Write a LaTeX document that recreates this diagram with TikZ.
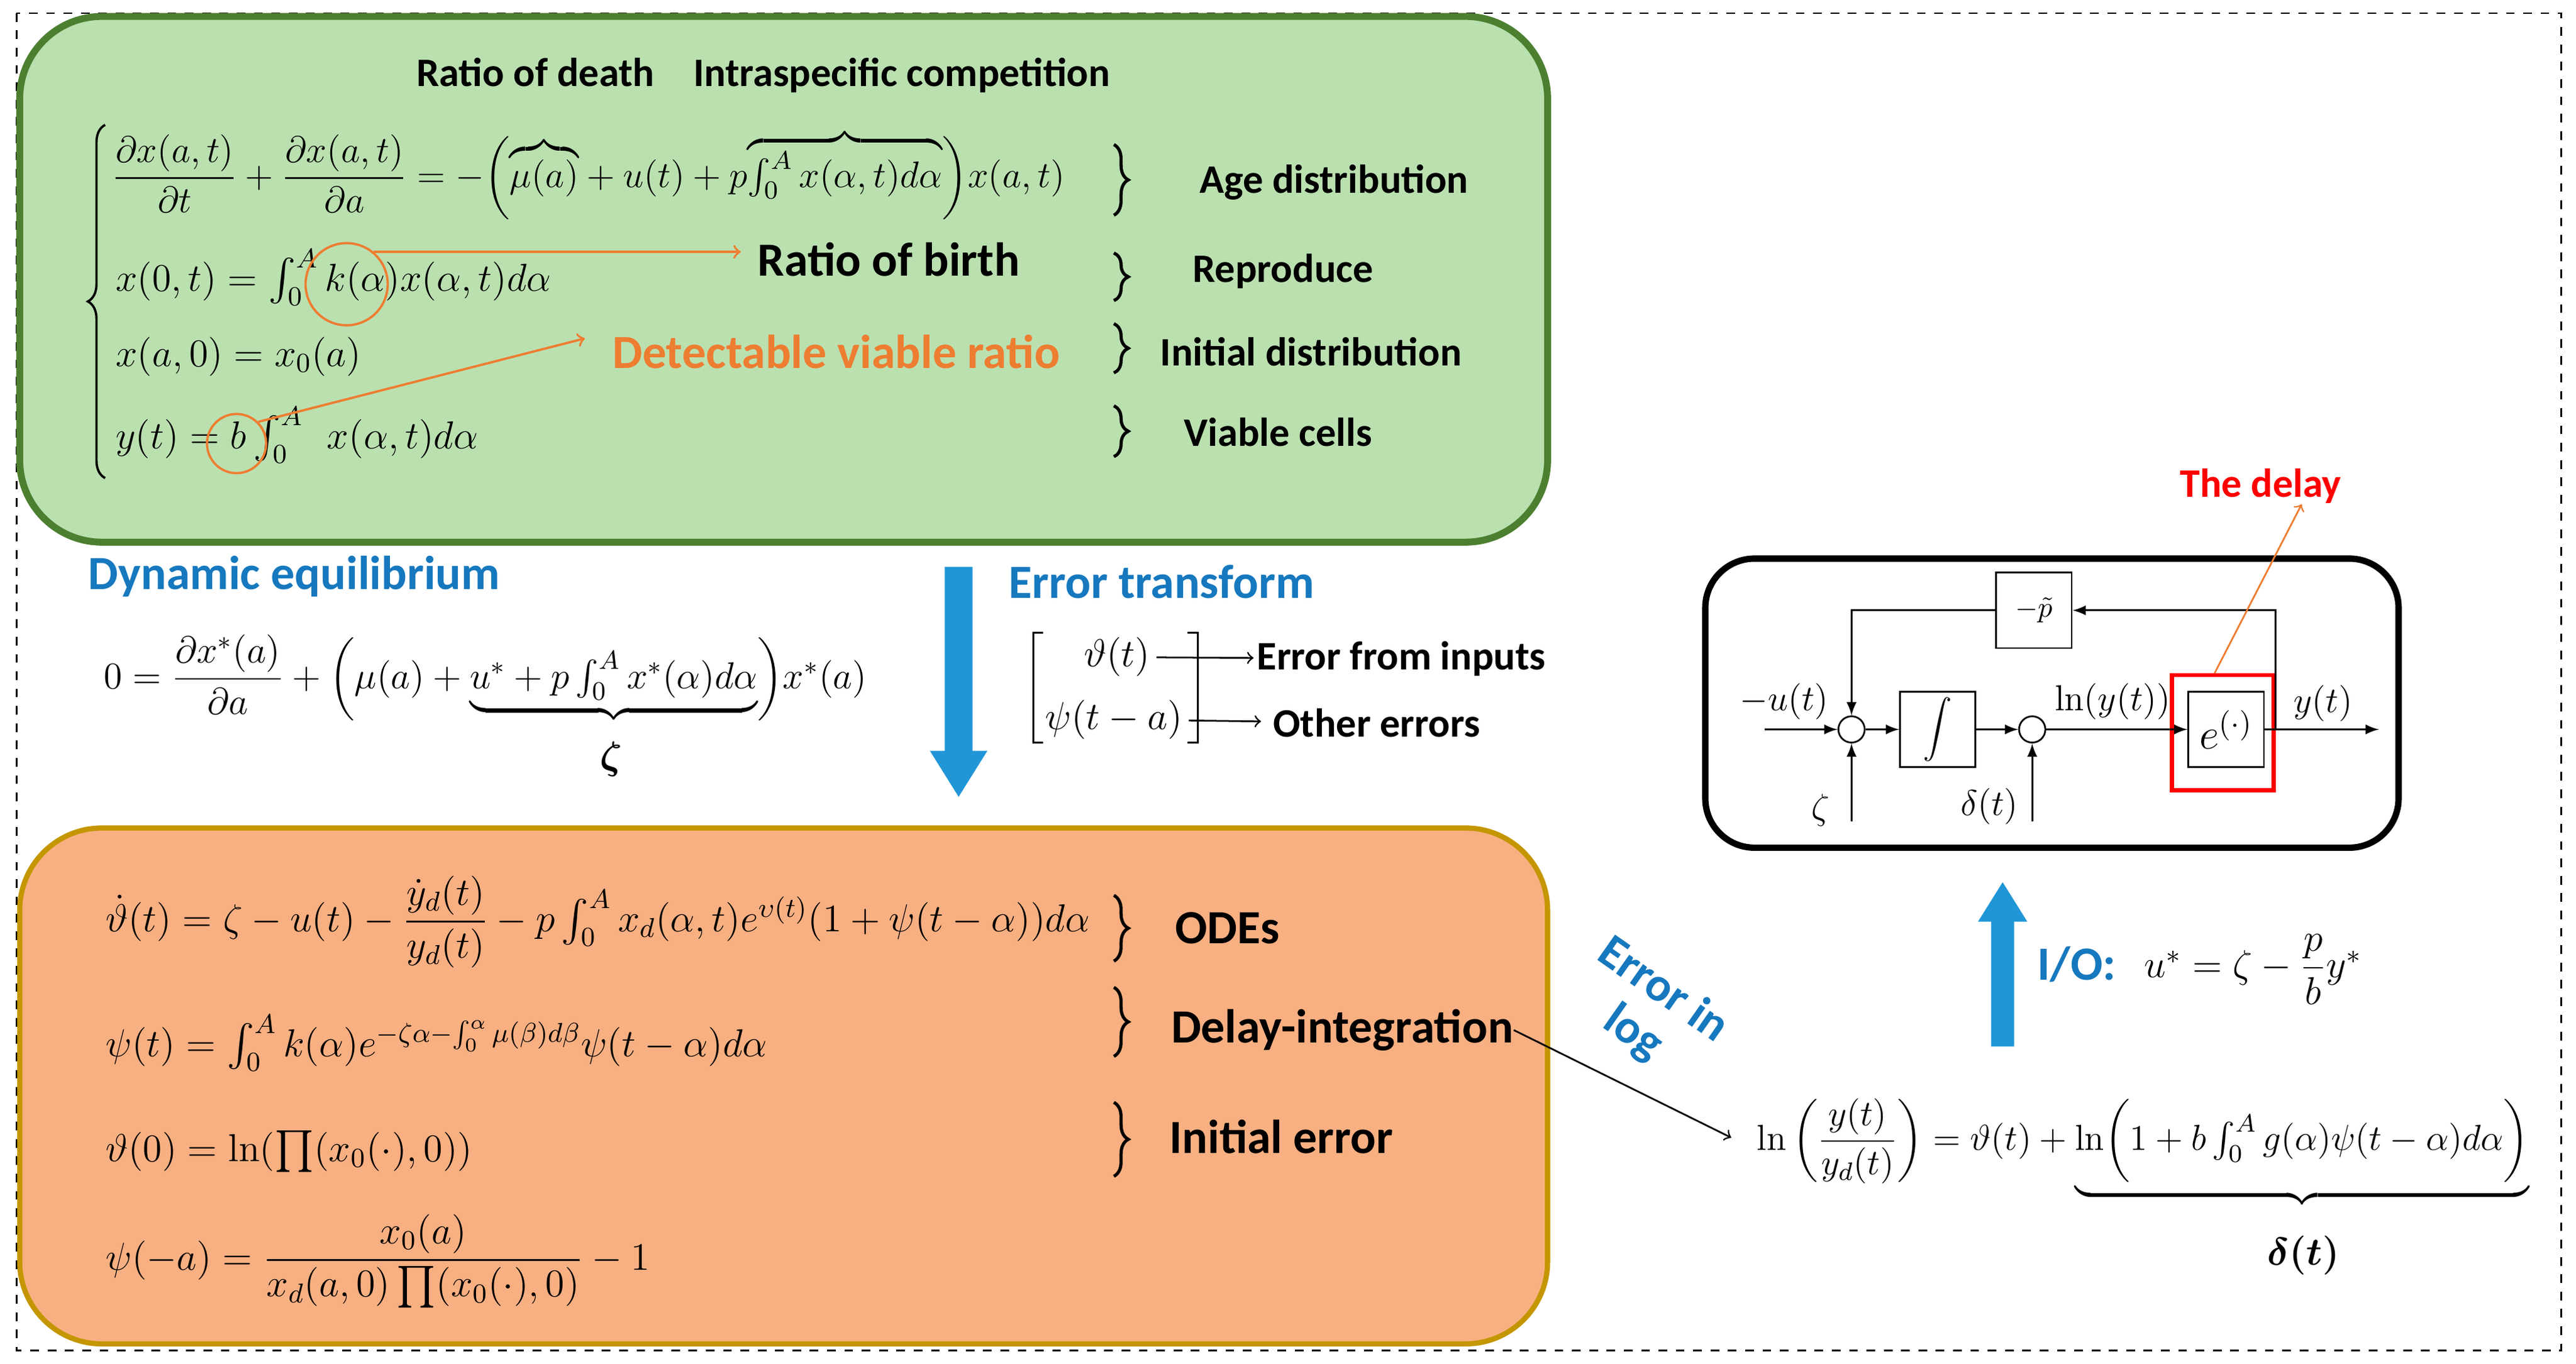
\RequirePackage{fix-cm}
\documentclass[tikz,border=0pt]{standalone}
\usepackage{amsmath}
\usepackage{bm}
\usepackage[no-math]{fontspec}
\setmainfont{Carlito}
\usetikzlibrary{decorations.pathreplacing}

\definecolor{boxgreen}{RGB}{187,224,176}
\definecolor{edgegreen}{RGB}{76,128,48}
\definecolor{boxorange}{RGB}{248,176,130}
\definecolor{edgegold}{RGB}{196,150,0}
\definecolor{noteorange}{RGB}{237,125,49}
\definecolor{textblue}{RGB}{22,120,190}
\definecolor{arrowblue}{RGB}{33,150,215}

\tikzset{
        lbl/.style={font=\bfseries\fontsize{14}{16}\selectfont, inner sep=0pt},
        biglbl/.style={font=\bfseries\fontsize{16.5}{18}\selectfont, inner sep=0pt},
        eqn/.style={anchor=base west, inner sep=0pt, font=\fontsize{13.5}{16}\selectfont},
        sigl/.style={inner sep=0pt, font=\fontsize{12.5}{14}\selectfont},
        rbrace/.style={decorate, decoration={brace, amplitude=5pt}, line width=1.1pt},
        blk/.style={draw, semithick, minimum width=9.2mm, minimum height=9.2mm, inner sep=0pt},
        sumc/.style={draw, semithick, circle, minimum size=3.2mm, inner sep=0pt},
        sig/.style={semithick, -latex},
}

\begin{document}
\begin{tikzpicture}[x=0.2mm,y=-0.2mm]
        \useasboundingbox (0,0) rectangle (1568,830);
        \draw[dashed, semithick] (10,8) rectangle (1559,822);

        \draw[line width=2.4pt, edgegreen, fill=boxgreen, rounded corners=10mm] (12,10) rectangle (942,330);
        \node[lbl] (death) at (326,44) {Ratio of death};
        \node[lbl] (compet) at (549,46) {Intraspecific competition};
        \node[eqn, font=\fontsize{12.8}{15}\selectfont] (pde) at (68,114) {$\dfrac{\partial x(a,t)}{\partial t}+\dfrac{\partial x(a,t)}{\partial a}=-\biggl({\overbrace{\textstyle\mu(a)}}+u(t)+p{\overbrace{\textstyle\int_0^A x(\alpha,t)d\alpha}}\biggr)x(a,t)$};
        \node[eqn] (bnd) at (70,177) {$x(0,t)=\int_0^A k(\alpha)x(\alpha,t)d\alpha$};
        \node[eqn] (ini) at (70,223) {$x(a,0)=x_0(a)$};
        \node[eqn] (obs) at (70,273) {$y(t)=b\int_0^A\;\, x(\alpha,t)d\alpha$};
        \draw[decorate, decoration={brace, amplitude=6pt}, line width=0.8pt] (64,291) -- (64,76);

        \draw[rbrace] (678,88) -- (678,131);
        \draw[rbrace] (678,154) -- (678,183);
        \draw[rbrace] (678,197) -- (678,227);
        \draw[rbrace] (678,247) -- (678,278);
        \node[lbl] (agel) at (812,111) {Age distribution};
        \node[lbl] (reprl) at (781,165) {Reproduce};
        \node[lbl] (inil) at (798,214) {Initial distribution};
        \node[lbl] (viabl) at (778,263) {Viable cells};

        \node[biglbl] (birthl) at (541,158) {Ratio of birth};
        \node[biglbl, noteorange] (detl) at (509,214) {Detectable viable ratio};
        \node[circle, draw=noteorange, thick, minimum size=10mm] (kring) at (211,173) {};
        \node[circle, draw=noteorange, thick, minimum size=7.2mm] (bring) at (144,270) {};
        \coordinate (detin) at (356,206);
        \draw[->, noteorange, thick, shorten >=2mm] (kring.50) -- (kring.50 -| birthl.west);
        \draw[->, noteorange, thick] (bring.north east) -- (detin);

        \node[biglbl, textblue] (dynl) at (179,351) {Dynamic equilibrium};
        \node[eqn, font=\fontsize{13}{15}\selectfont] (equil) at (63,419) {$0=\dfrac{\partial x^*(a)}{\partial a}+\biggl(\mu(a)+{\underbrace{\textstyle u^*+p\int_0^A x^*(\alpha)d\alpha}}\biggr)x^*(a)$};
        \node[sigl, font=\fontsize{13.5}{16}\selectfont] (zeta) at (372,462) {$\bm{\zeta}$};

        \fill[arrowblue] (575,345) -- (592,345) -- (592,457) -- (601,457) -- (583.5,485) -- (566,457) -- (575,457) -- cycle;

        \node[biglbl, textblue] (errl) at (707,354) {Error transform};
        \node[eqn, anchor=center] (theta) at (680,400) {$\vartheta(t)$};
        \node[eqn, anchor=center] (psi) at (678,438) {$\psi(t-a)$};
        \draw[semithick] (635,385) -- (629,385) -- (629,452) -- (635,452);
        \draw[semithick] (723,385) -- (729,385) -- (729,452) -- (723,452);
        \node[lbl] (inputs) at (853,401) {Error from inputs};
        \node[lbl] (others) at (838,440) {Other errors};
        \draw[->, semithick, shorten <=2pt, shorten >=1pt] (theta) -- (inputs);
        \draw[->, semithick, shorten <=2pt, shorten >=4pt] (psi) -- (others);

        \draw[line width=1.8pt, edgegold, fill=boxorange, rounded corners=10mm] (12,504) rectangle (942,818);
        \node[eqn] (thdot) at (64,567) {$\dot{\vartheta}(t)=\zeta-u(t)-\dfrac{\dot{y}_d(t)}{y_d(t)}-p\int_0^A x_d(\alpha,t)e^{\upsilon(t)}(1+\psi(t-\alpha))d\alpha$};
        \node[eqn] (psieq) at (64,643) {$\psi(t)=\int_0^A k(\alpha)e^{-\zeta\alpha-\int_0^\alpha\mu(\beta)d\beta}\psi(t-\alpha)d\alpha$};
        \node[eqn] (thini) at (64,707) {$\vartheta(0)=\ln(\prod(x_0(\cdot),0))$};
        \node[eqn] (psiini) at (64,773) {$\psi(-a)=\dfrac{x_0(a)}{x_d(a,0)\prod(x_0(\cdot),0)}-1$};
        \draw[rbrace] (678,545) -- (678,585);
        \draw[rbrace] (678,601) -- (678,643);
        \draw[rbrace] (678,671) -- (678,716);
        \node[biglbl] (odel) at (747,565) {ODEs};
        \node[biglbl] (dintl) at (817,627) {Delay-integration};
        \node[biglbl] (inierr) at (780,692) {Initial error};

        \node[biglbl, textblue, rotate=-35, align=center] (logl) at (1003,616) {Error in\\log};
        \node[eqn, font=\fontsize{12.5}{15}\selectfont] (lneq) at (1069,700) {$\ln\left(\dfrac{y(t)}{y_d(t)}\right)=\vartheta(t)+{\underbrace{\textstyle\ln\biggl(1+b\int_0^A g(\alpha)\psi(t-\alpha)d\alpha\biggr)}}$};
        \node[sigl, font=\fontsize{13.5}{16}\selectfont] (delta) at (1402,764) {$\bm{\delta(t)}$};
        \draw[->, semithick, shorten >=3.4mm] (dintl.east) -- (lneq.base west);

        \fill[arrowblue] (1212,637) -- (1226,637) -- (1226,561) -- (1234,561) -- (1219,537) -- (1204,561) -- (1212,561) -- cycle;
        \node[biglbl, textblue] (iol) at (1264,587) {I/O:};
        \node[eqn] (ioeq) at (1305,595) {$u^*=\zeta-\dfrac{p}{b}y^*$};

        \draw[line width=2.2pt, rounded corners=6mm] (1038,340) rectangle (1460,516);
        \node[sumc] (s1) at (1127,444) {};
        \node[blk] (intb) at (1179.5,444) {$\displaystyle\int$};
        \node[sumc] (s2) at (1237,444) {};
        \node[blk, font=\fontsize{15}{17}\selectfont] (eb) at (1355,444) {$e^{(\cdot)}$};
        \node[draw=red, line width=1.4pt, minimum width=12.4mm, minimum height=14mm] (redb) at (1353,446) {};
        \node[blk] (pb) at (1238,371.5) {$-\tilde{p}$};
        \coordinate (uin) at (1074,444);
        \coordinate (yout) at (1448,444);
        \coordinate (tap) at (1385,444);
        \coordinate (zin) at (1127,500);
        \coordinate (din) at (1237,500);
        \draw[sig] (uin) -- (s1);
        \draw[sig] (s1) -- (intb);
        \draw[sig] (intb) -- (s2);
        \draw[sig] (s2) -- (eb);
        \draw[sig] (eb) -- (yout);
        \draw[sig] (tap) |- (pb);
        \draw[sig] (pb) -| (s1);
        \draw[sig] (zin) -- (s1);
        \draw[sig] (din) -- (s2);
        \node[sigl] (ul) at (1086,427) {$-u(t)$};
        \node[sigl] (lnyl) at (1286,427) {$\ln(y(t))$};
        \node[sigl] (yl) at (1414,428) {$y(t)$};
        \node[sigl] (zl) at (1108,493) {$\zeta$};
        \node[sigl] (dl) at (1211,491) {$\delta(t)$};

        \node[lbl, red] (delayl) at (1376,296) {The delay};
        \draw[->, noteorange, semithick] ([xshift=-1mm]redb.north) -- ([xshift=5mm]delayl.south);
\end{tikzpicture}
\end{document}
